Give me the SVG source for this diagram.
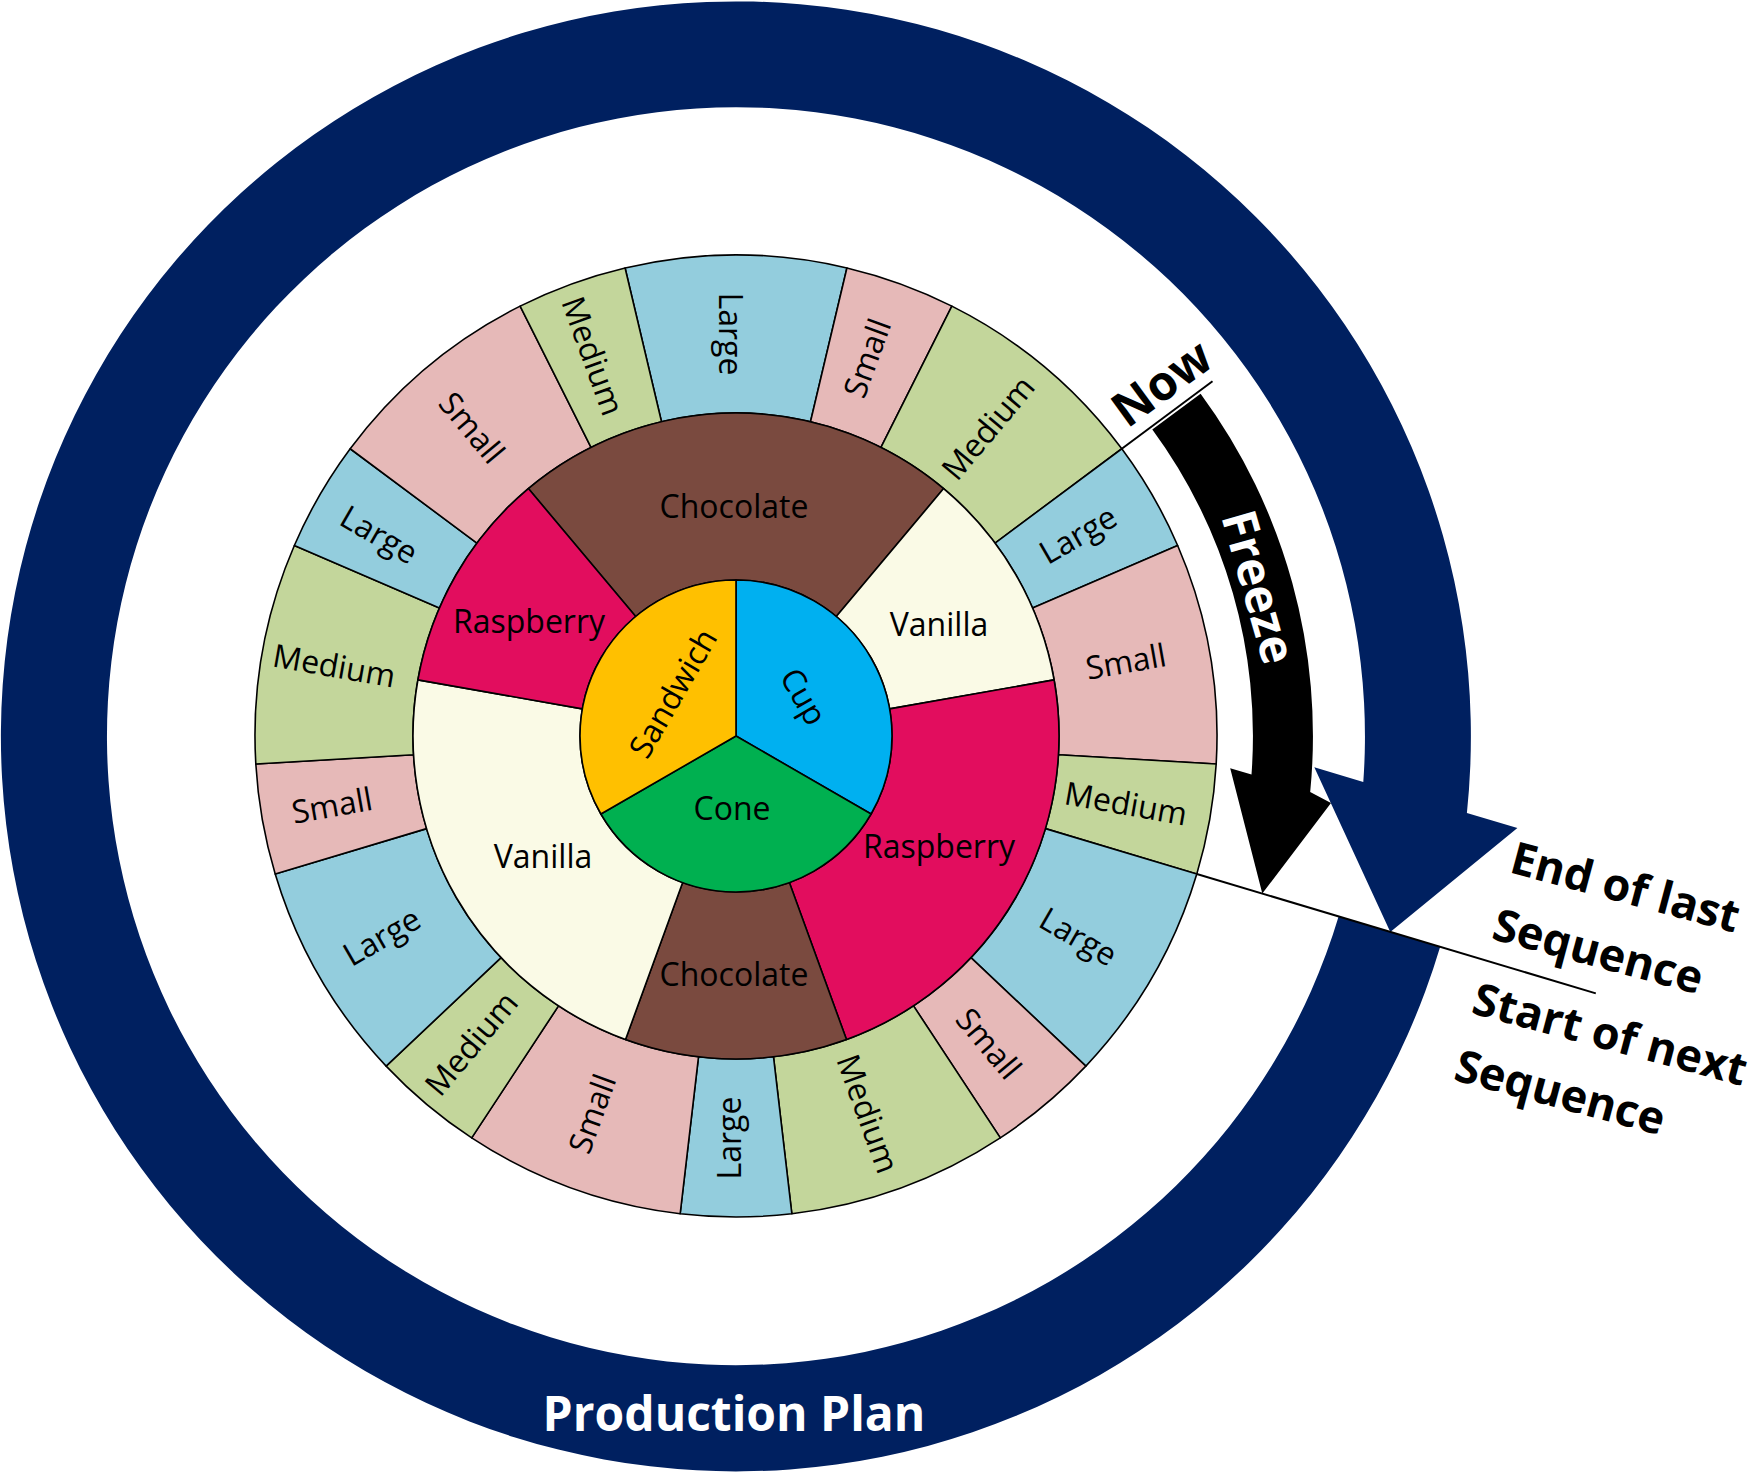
<svg xmlns="http://www.w3.org/2000/svg" width="1757" height="1473" viewBox="0 0 1757 1473">
<style>
.seg{stroke:#000;stroke-width:1.6;stroke-linejoin:round}
.lg{fill:#93CDDD}.sm{fill:#E6B9B8}.md{fill:#C3D69B}
.ch{fill:#7A4A3F}.va{fill:#FAFAE6}.ra{fill:#E20D5E}
.sw{fill:#FFC000}.cu{fill:#00B0F0}.co{fill:#00B050}
.t{font-family:'Open Sans','Noto Sans',sans-serif;font-size:32px;fill:#000;text-anchor:middle}
.b{font-family:'Open Sans','Noto Sans',sans-serif;font-weight:bold;font-size:48px}
.s{font-size:45px}
.ln{stroke:#000;stroke-width:2;fill:none}
</style>
<rect width="1757" height="1473" fill="#fff"/>
<g id="production-plan">
<path fill="#002060" d="M1440.1,946.9 A735,735 0 1 1 1466.9,812.9 L1517.4,828.0 L1390.3,931.9 L1314.3,767.2 L1363.3,781.9 A629,629 0 1 0 1338.6,916.4 Z"/>
<text class="b" x="734" y="1431" fill="#fff" text-anchor="middle">Production Plan</text>
</g>
<g id="freeze">
<path fill="#000" d="M1200.6,393.8 A577,577 0 0 1 1310.2,792.1 L1331,803 L1262.3,893.6 L1230.2,768.2 L1251.5,774.5 A517,517 0 0 0 1152.3,429.4 Z"/>
<text class="b" fill="#fff" text-anchor="middle" transform="translate(1242.5,591.6) rotate(74)">Freeze</text>
</g>
<g id="connectors">
<line class="ln" x1="1121.8" y1="448.8" x2="1212.5" y2="381.3"/>
<line class="ln" x1="1196.8" y1="874" x2="1595.8" y2="993.4"/>
</g>
<g id="now">
<text class="b" fill="#000" text-anchor="middle" transform="translate(1171.6,396.7) rotate(-36)">Now</text>
</g>
<g id="end-of-last">
<text class="b s" fill="#000" transform="translate(1508,872) rotate(15)"><tspan x="0" y="0">End of last</tspan><tspan x="0" y="69">Sequence</tspan></text>
</g>
<g id="start-of-next">
<text class="b s" fill="#000" transform="translate(1470,1013) rotate(15)"><tspan x="0" y="0">Start of next</tspan><tspan x="0" y="69">Sequence</tspan></text>
</g>
<g id="sizes">
<g id="s1"><path class="seg lg" d="M625.08,267.97 A481,481 0 0 1 846.92,267.97 L810.49,421.71 A323,323 0 0 0 661.51,421.71 Z"/><text class="t" transform="translate(730,334) rotate(90)" y="11">Large</text></g>
<g id="s2"><path class="seg sm" d="M846.92,267.97 A481,481 0 0 1 951.87,306.16 L880.96,447.36 A323,323 0 0 0 810.49,421.71 Z"/><text class="t" transform="translate(867.5,358.2) rotate(-70)" y="11">Small</text></g>
<g id="s3"><path class="seg md" d="M951.87,306.16 A481,481 0 0 1 1121.81,448.75 L995.08,543.10 A323,323 0 0 0 880.96,447.36 Z"/><text class="t" transform="translate(988.4,428.1) rotate(-50)" y="11">Medium</text></g>
<g id="s4"><path class="seg lg" d="M1121.81,448.75 A481,481 0 0 1 1177.65,545.46 L1032.58,608.05 A323,323 0 0 0 995.08,543.10 Z"/><text class="t" transform="translate(1078.1,535) rotate(-30)" y="11">Large</text></g>
<g id="s5"><path class="seg sm" d="M1177.65,545.46 A481,481 0 0 1 1216.19,763.97 L1058.45,754.78 A323,323 0 0 0 1032.58,608.05 Z"/><text class="t" transform="translate(1125.9,662) rotate(-10)" y="11">Small</text></g>
<g id="s6"><path class="seg md" d="M1216.19,763.97 A481,481 0 0 1 1196.79,873.95 L1045.43,828.64 A323,323 0 0 0 1058.45,754.78 Z"/><text class="t" transform="translate(1125.9,804) rotate(10)" y="11">Medium</text></g>
<g id="s7"><path class="seg lg" d="M1196.79,873.95 A481,481 0 0 1 1085.87,1066.08 L970.94,957.66 A323,323 0 0 0 1045.43,828.64 Z"/><text class="t" transform="translate(1078.1,937) rotate(30)" y="11">Large</text></g>
<g id="s8"><path class="seg sm" d="M1085.87,1066.08 A481,481 0 0 1 1000.31,1137.87 L913.49,1005.86 A323,323 0 0 0 970.94,957.66 Z"/><text class="t" transform="translate(988.4,1043.9) rotate(50)" y="11">Small</text></g>
<g id="s9"><path class="seg md" d="M1000.31,1137.87 A481,481 0 0 1 791.84,1213.75 L773.50,1056.82 A323,323 0 0 0 913.49,1005.86 Z"/><text class="t" transform="translate(867.5,1113.8) rotate(70)" y="11">Medium</text></g>
<g id="s10"><path class="seg lg" d="M791.84,1213.75 A481,481 0 0 1 680.16,1213.75 L698.50,1056.82 A323,323 0 0 0 773.50,1056.82 Z"/><text class="t" transform="translate(730,1138) rotate(-90)" y="11">Large</text></g>
<g id="s11"><path class="seg sm" d="M680.16,1213.75 A481,481 0 0 1 471.69,1137.87 L558.51,1005.86 A323,323 0 0 0 698.50,1056.82 Z"/><text class="t" transform="translate(592.5,1113.8) rotate(-70)" y="11">Small</text></g>
<g id="s12"><path class="seg md" d="M471.69,1137.87 A481,481 0 0 1 386.13,1066.08 L501.06,957.66 A323,323 0 0 0 558.51,1005.86 Z"/><text class="t" transform="translate(471.6,1043.9) rotate(-50)" y="11">Medium</text></g>
<g id="s13"><path class="seg lg" d="M386.13,1066.08 A481,481 0 0 1 275.21,873.95 L426.57,828.64 A323,323 0 0 0 501.06,957.66 Z"/><text class="t" transform="translate(381.9,937) rotate(-30)" y="11">Large</text></g>
<g id="s14"><path class="seg sm" d="M275.21,873.95 A481,481 0 0 1 255.81,763.97 L413.55,754.78 A323,323 0 0 0 426.57,828.64 Z"/><text class="t" transform="translate(332,805.8) rotate(-10)" y="11">Small</text></g>
<g id="s15"><path class="seg md" d="M255.81,763.97 A481,481 0 0 1 294.35,545.46 L439.42,608.05 A323,323 0 0 0 413.55,754.78 Z"/><text class="t" transform="translate(334.1,666.2) rotate(10)" y="11">Medium</text></g>
<g id="s16"><path class="seg lg" d="M294.35,545.46 A481,481 0 0 1 350.19,448.75 L476.92,543.10 A323,323 0 0 0 439.42,608.05 Z"/><text class="t" transform="translate(379,535) rotate(30)" y="11">Large</text></g>
<g id="s17"><path class="seg sm" d="M350.19,448.75 A481,481 0 0 1 520.13,306.16 L591.04,447.36 A323,323 0 0 0 476.92,543.10 Z"/><text class="t" transform="translate(471.6,428.1) rotate(50)" y="11">Small</text></g>
<g id="s18"><path class="seg md" d="M520.13,306.16 A481,481 0 0 1 625.08,267.97 L661.51,421.71 A323,323 0 0 0 591.04,447.36 Z"/><text class="t" transform="translate(592.5,356) rotate(70)" y="11">Medium</text></g>
</g>
<g id="flavours">
<g id="f1"><path class="seg ch" d="M528.38,488.57 A323,323 0 0 1 943.62,488.57 L836.28,616.50 A156,156 0 0 0 635.72,616.50 Z"/><text class="t" x="734" y="517.5">Chocolate</text></g>
<g id="f2"><path class="seg va" d="M943.62,488.57 A323,323 0 0 1 1054.09,679.91 L889.63,708.91 A156,156 0 0 0 836.28,616.50 Z"/><text class="t" x="939" y="636">Vanilla</text></g>
<g id="f3"><path class="seg ra" d="M1054.09,679.91 A323,323 0 0 1 846.47,1039.52 L789.36,882.59 A156,156 0 0 0 889.63,708.91 Z"/><text class="t" x="939" y="858">Raspberry</text></g>
<g id="f4"><path class="seg ch" d="M846.47,1039.52 A323,323 0 0 1 625.53,1039.52 L682.64,882.59 A156,156 0 0 0 789.36,882.59 Z"/><text class="t" x="734" y="986">Chocolate</text></g>
<g id="f5"><path class="seg va" d="M625.53,1039.52 A323,323 0 0 1 417.91,679.91 L582.37,708.91 A156,156 0 0 0 682.64,882.59 Z"/><text class="t" x="543" y="868">Vanilla</text></g>
<g id="f6"><path class="seg ra" d="M417.91,679.91 A323,323 0 0 1 528.38,488.57 L635.72,616.50 A156,156 0 0 0 582.37,708.91 Z"/><text class="t" x="529" y="633">Raspberry</text></g>
</g>
<g id="types">
<g id="cup"><path class="seg cu" d="M736,736 L736,580 A156,156 0 0 1 871.10,814 Z"/><text class="t" transform="translate(803.3,696.7) rotate(60)" y="11">Cup</text></g>
<g id="cone"><path class="seg co" d="M736,736 L871.10,814 A156,156 0 0 1 600.90,814 Z"/><text class="t" x="732" y="820">Cone</text></g>
<g id="sandwich"><path class="seg sw" d="M736,736 L600.90,814 A156,156 0 0 1 736,580 Z"/><text class="t" transform="translate(673.3,693.3) rotate(-60)" y="11">Sandwich</text></g>
</g>
</svg>
